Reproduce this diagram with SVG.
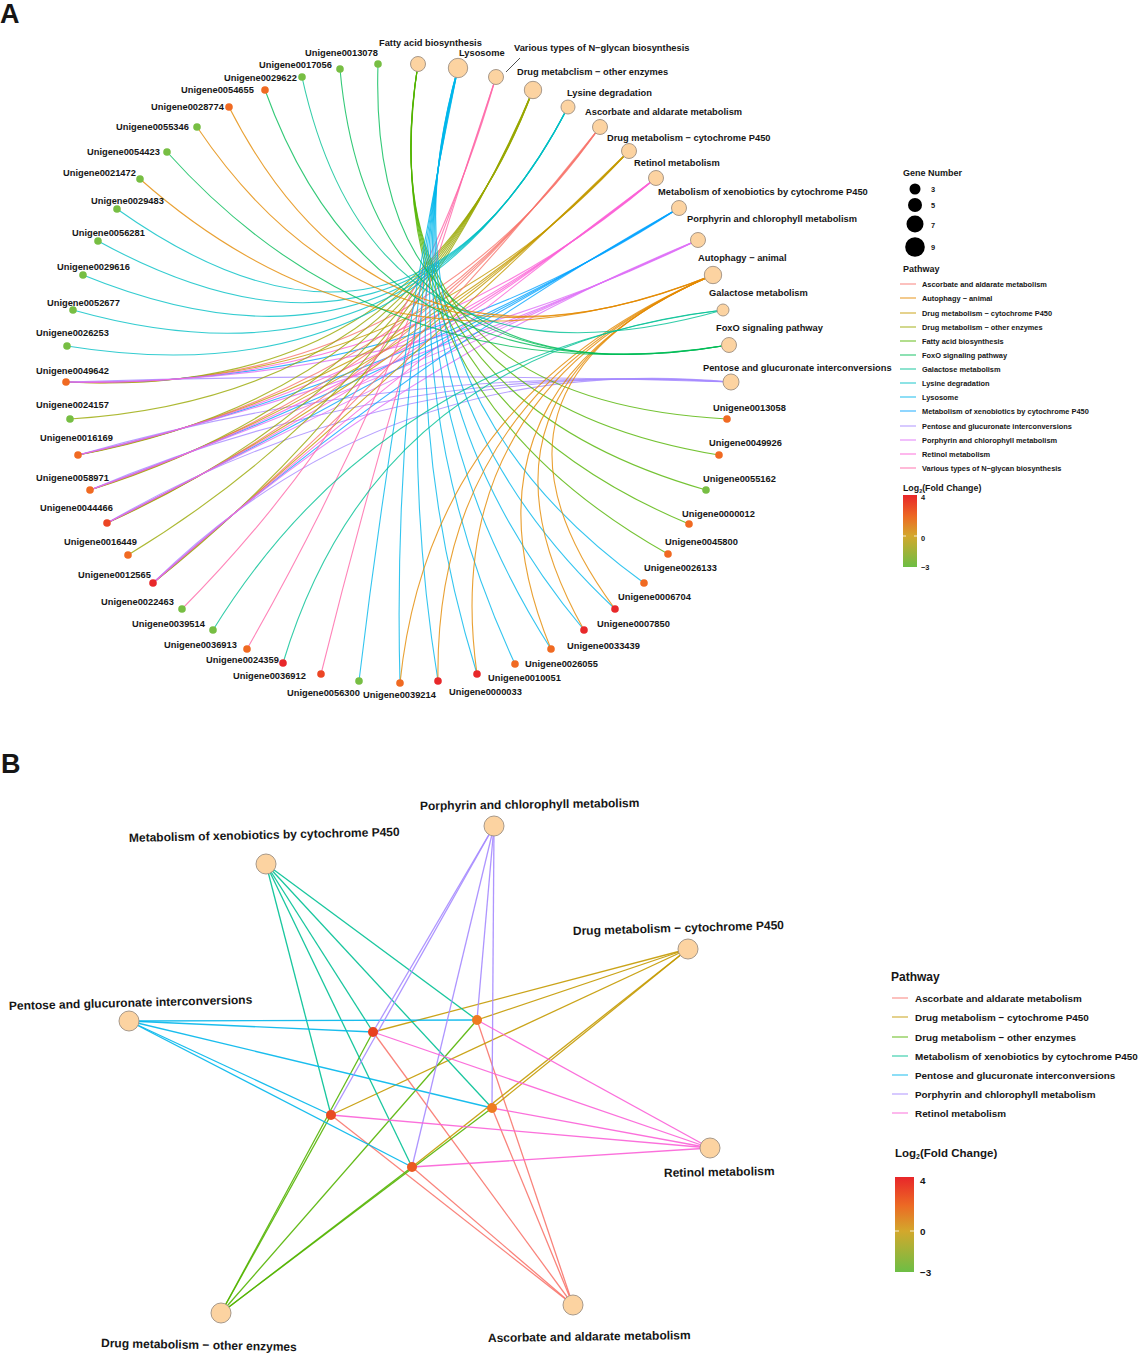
<svg xmlns="http://www.w3.org/2000/svg" width="1138" height="1355" viewBox="0 0 1138 1355">
<style>
text{font-family:"Liberation Sans",Arial,sans-serif;font-weight:bold;fill:#161616}
.e{fill:none;stroke-width:1.1;stroke-opacity:.8}
.eb{fill:none;stroke-width:1.3;stroke-opacity:.9}
.lg{fill:none;stroke-width:1.2;stroke-opacity:.75}
.as{stroke:#F8766D}.au{stroke:#E38900}.dp{stroke:#C49A00}.do{stroke:#99A800}.fa{stroke:#53B400}
.fo{stroke:#00BC56}.ga{stroke:#00C094}.ld{stroke:#00BFC4}.ly{stroke:#00B6EB}.xe{stroke:#06A4FF}
.pe{stroke:#A58AFF}.po{stroke:#DF70F8}.re{stroke:#FB61D7}.ng{stroke:#FF66A8}
.bdo{stroke:#53B400}.bxe{stroke:#00C094}.bpe{stroke:#00B6EB}.bpo{stroke:#A58AFF}
.pn{fill:#FCD3A1;stroke:#A8998A;stroke-width:1}
.gn{stroke:none}
.gr{fill:#77BE43}.or{fill:#F06A22}.rd{fill:#E8282A}.ro{fill:#EC4524}
.gl{font-size:9.3px}
.lt{font-size:7.4px}
.bt{font-size:12px}
.bl{font-size:9.9px}
</style>
<defs>
<linearGradient id="fc" x1="0" y1="0" x2="0" y2="1">
<stop offset="0" stop-color="#E8262A"/>
<stop offset="0.3" stop-color="#EC6A24"/>
<stop offset="0.57" stop-color="#D3A82C"/>
<stop offset="1" stop-color="#6DBE45"/>
</linearGradient>
</defs>
<rect width="1138" height="1355" fill="#fff"/>
<text x="0" y="23" font-size="27">A</text>
<text x="1" y="773" font-size="27">B</text>

<g id="edges-a">
<path class="e as" d="M66,382 Q411,396.7 600,127"/>
<path class="e dp" d="M66,382 Q408.1,394.3 629,151"/>
<path class="e do" d="M66,382 Q417.7,400.4 533,90"/>
<path class="e xe" d="M66,382 Q403.1,388.6 679,208"/>
<path class="e pe" d="M66,382 Q397.9,371.2 731,382"/>
<path class="e po" d="M66,382 Q401.2,385.4 698,240"/>
<path class="e re" d="M66,382 Q405.4,391.6 656,178"/>
<path class="e as" d="M78,455 Q409.8,389.4 600,127"/>
<path class="e dp" d="M78,455 Q406.9,387 629,151"/>
<path class="e do" d="M78,455 Q416.5,393.1 533,90"/>
<path class="e xe" d="M78,455 Q401.9,381.3 679,208"/>
<path class="e pe" d="M78,455 Q396.7,363.9 731,382"/>
<path class="e po" d="M78,455 Q400,378.1 698,240"/>
<path class="e re" d="M78,455 Q404.2,384.3 656,178"/>
<path class="e as" d="M90,490 Q408.6,385.9 600,127"/>
<path class="e dp" d="M90,490 Q405.7,383.5 629,151"/>
<path class="e do" d="M90,490 Q415.3,389.6 533,90"/>
<path class="e xe" d="M90,490 Q400.7,377.8 679,208"/>
<path class="e pe" d="M90,490 Q395.5,360.4 731,382"/>
<path class="e po" d="M90,490 Q398.8,374.6 698,240"/>
<path class="e re" d="M90,490 Q403,380.8 656,178"/>
<path class="e as" d="M107,523 Q406.9,382.6 600,127"/>
<path class="e dp" d="M107,523 Q404,380.2 629,151"/>
<path class="e do" d="M107,523 Q413.6,386.3 533,90"/>
<path class="e xe" d="M107,523 Q399,374.5 679,208"/>
<path class="e pe" d="M107,523 Q393.8,357.1 731,382"/>
<path class="e po" d="M107,523 Q397.1,371.3 698,240"/>
<path class="e re" d="M107,523 Q401.3,377.5 656,178"/>
<path class="e as" d="M153,583 Q402.3,376.6 600,127"/>
<path class="e dp" d="M153,583 Q399.4,374.2 629,151"/>
<path class="e do" d="M153,583 Q409,380.3 533,90"/>
<path class="e xe" d="M153,583 Q394.4,368.5 679,208"/>
<path class="e pe" d="M153,583 Q389.2,351.1 731,382"/>
<path class="e po" d="M153,583 Q392.5,365.3 698,240"/>
<path class="e re" d="M153,583 Q396.7,371.5 656,178"/>
<path class="e do" d="M70,419 Q417.3,396.7 533,90"/>
<path class="e do" d="M128,555 Q411.5,383.1 533,90"/>
<path class="e ng" d="M182,609 Q409.8,379 496,77"/>
<path class="e ng" d="M247,649 Q403.3,375 496,77"/>
<path class="e ng" d="M321,674 Q395.9,372.5 496,77"/>
<path class="e fa" d="M727,419 Q363.1,399.3 418,64"/>
<path class="e fa" d="M719,455 Q363.9,395.7 418,64"/>
<path class="e fa" d="M706,490 Q365.2,392.2 418,64"/>
<path class="e fa" d="M689,524 Q366.9,388.8 418,64"/>
<path class="e fa" d="M668,554 Q369,385.8 418,64"/>
<path class="e ld" d="M117,209 Q409.1,416 568,107"/>
<path class="e ld" d="M98,241 Q411,412.8 568,107"/>
<path class="e ld" d="M83,275 Q412.5,409.4 568,107"/>
<path class="e ld" d="M73,310 Q413.5,405.9 568,107"/>
<path class="e ld" d="M67,346 Q414.1,402.3 568,107"/>
<path class="e ly" d="M359,681 Q395.9,372.7 458,68"/>
<path class="e ly" d="M400,683 Q391.8,372.5 458,68"/>
<path class="e ly" d="M438,681 Q388,372.7 458,68"/>
<path class="e ly" d="M477,674 Q384.1,373.4 458,68"/>
<path class="e ly" d="M515,664 Q380.3,374.4 458,68"/>
<path class="e ly" d="M551,649 Q376.7,375.9 458,68"/>
<path class="e ly" d="M584,630 Q373.4,377.8 458,68"/>
<path class="e ly" d="M615,609 Q370.3,379.9 458,68"/>
<path class="e ly" d="M644,583 Q367.4,382.5 458,68"/>
<path class="e au" d="M229,107 Q383.4,409.4 713,275"/>
<path class="e au" d="M197,127 Q386.6,407.4 713,275"/>
<path class="e au" d="M140,179 Q392.3,402.2 713,275"/>
<path class="e au" d="M400,683 Q429.7,394.2 713,275"/>
<path class="e au" d="M438,681 Q433.5,394 713,275"/>
<path class="e au" d="M477,674 Q437.4,393.3 713,275"/>
<path class="e au" d="M551,649 Q444.8,390.8 713,275"/>
<path class="e au" d="M584,630 Q448.1,388.9 713,275"/>
<path class="e au" d="M615,609 Q451.2,386.8 713,275"/>
<path class="e fo" d="M378,64 Q366.9,406.7 729,345"/>
<path class="e fo" d="M340,69 Q370.7,406.2 729,345"/>
<path class="e fo" d="M265,90 Q378.2,404.1 729,345"/>
<path class="e fo" d="M167,152 Q388,397.9 729,345"/>
<path class="e ga" d="M302,77 Q375.1,408.9 723,310"/>
<path class="e ga" d="M213,630 Q384,353.6 723,310"/>
<path class="e ga" d="M283,663 Q377,350.3 723,310"/>
<line x1="506" y1="72" x2="520" y2="58" stroke="#222" stroke-width="0.8"/>
</g>

<g id="pathways-a">
<g id="a-fatty-acid"><circle class="pn" cx="418" cy="64" r="7.5"/><text class="gl" x="379" y="46">Fatty acid biosynthesis</text></g>
<g id="a-lysosome"><circle class="pn" cx="458" cy="68" r="9.7"/><text class="gl" x="459" y="56">Lysosome</text></g>
<g id="a-nglycan"><circle class="pn" cx="496" cy="77" r="7.5"/><text class="gl" x="514" y="51">Various types of N&#8722;glycan biosynthesis</text></g>
<g id="a-drug-other"><circle class="pn" cx="533" cy="90" r="8.7"/><text class="gl" x="517" y="75">Drug metabclism &#8722; other enzymes</text></g>
<g id="a-lysine"><circle class="pn" cx="568" cy="107" r="7"/><text class="gl" x="567" y="96">Lysine degradation</text></g>
<g id="a-ascorbate"><circle class="pn" cx="600" cy="127" r="7.5"/><text class="gl" x="585" y="115">Ascorbate and aldarate metabolism</text></g>
<g id="a-drug-p450"><circle class="pn" cx="629" cy="151" r="7.5"/><text class="gl" x="607" y="141">Drug metabolism &#8722; cytochrome P450</text></g>
<g id="a-retinol"><circle class="pn" cx="656" cy="178" r="7.5"/><text class="gl" x="634" y="166">Retinol metabolism</text></g>
<g id="a-xenobiotics"><circle class="pn" cx="679" cy="208" r="7.5"/><text class="gl" x="658" y="195">Metabolism of xenobiotics by cytochrome P450</text></g>
<g id="a-porphyrin"><circle class="pn" cx="698" cy="240" r="7.5"/><text class="gl" x="687" y="222">Porphyrin and chlorophyll metabolism</text></g>
<g id="a-autophagy"><circle class="pn" cx="713" cy="275" r="8.7"/><text class="gl" x="698" y="261">Autophagy &#8722; animal</text></g>
<g id="a-galactose"><circle class="pn" cx="723" cy="310" r="6"/><text class="gl" x="709" y="296">Galactose metabolism</text></g>
<g id="a-foxo"><circle class="pn" cx="729" cy="345" r="7.5"/><text class="gl" x="716" y="331" font-size="8.8">FoxO signaling pathway</text></g>
<g id="a-pentose"><circle class="pn" cx="731" cy="382" r="8"/><text class="gl" x="703" y="371">Pentose and glucuronate interconversions</text></g>
</g>

<g id="genes-a">
<g id="u0013078"><circle class="gn gr" cx="378" cy="64" r="3.8"/><text class="gl" x="305" y="56">Unigene0013078</text></g>
<g id="u0017056"><circle class="gn gr" cx="340" cy="69" r="3.8"/><text class="gl" x="259" y="68">Unigene0017056</text></g>
<g id="u0029622"><circle class="gn gr" cx="302" cy="77" r="3.8"/><text class="gl" x="224" y="81">Unigene0029622</text></g>
<g id="u0054655"><circle class="gn or" cx="265" cy="90" r="3.8"/><text class="gl" x="181" y="93">Unigene0054655</text></g>
<g id="u0028774"><circle class="gn or" cx="229" cy="107" r="3.8"/><text class="gl" x="151" y="110">Unigene0028774</text></g>
<g id="u0055346"><circle class="gn gr" cx="197" cy="127" r="3.8"/><text class="gl" x="116" y="130">Unigene0055346</text></g>
<g id="u0054423"><circle class="gn gr" cx="167" cy="152" r="3.8"/><text class="gl" x="87" y="155">Unigene0054423</text></g>
<g id="u0021472"><circle class="gn gr" cx="140" cy="179" r="3.8"/><text class="gl" x="63" y="176">Unigene0021472</text></g>
<g id="u0029483"><circle class="gn gr" cx="117" cy="209" r="3.8"/><text class="gl" x="91" y="204">Unigene0029483</text></g>
<g id="u0056281"><circle class="gn gr" cx="98" cy="241" r="3.8"/><text class="gl" x="72" y="236">Unigene0056281</text></g>
<g id="u0029616"><circle class="gn gr" cx="83" cy="275" r="3.8"/><text class="gl" x="57" y="270">Unigene0029616</text></g>
<g id="u0052677"><circle class="gn gr" cx="73" cy="310" r="3.8"/><text class="gl" x="47" y="306">Unigene0052677</text></g>
<g id="u0026253"><circle class="gn gr" cx="67" cy="346" r="3.8"/><text class="gl" x="36" y="336">Unigene0026253</text></g>
<g id="u0049642"><circle class="gn or" cx="66" cy="382" r="3.8"/><text class="gl" x="36" y="374">Unigene0049642</text></g>
<g id="u0024157"><circle class="gn gr" cx="70" cy="419" r="3.8"/><text class="gl" x="36" y="408">Unigene0024157</text></g>
<g id="u0016169"><circle class="gn or" cx="78" cy="455" r="3.8"/><text class="gl" x="40" y="441">Unigene0016169</text></g>
<g id="u0058971"><circle class="gn or" cx="90" cy="490" r="3.8"/><text class="gl" x="36" y="481">Unigene0058971</text></g>
<g id="u0044466"><circle class="gn ro" cx="107" cy="523" r="3.8"/><text class="gl" x="40" y="511">Unigene0044466</text></g>
<g id="u0016449"><circle class="gn or" cx="128" cy="555" r="3.8"/><text class="gl" x="64" y="545">Unigene0016449</text></g>
<g id="u0012565"><circle class="gn rd" cx="153" cy="583" r="3.8"/><text class="gl" x="78" y="578">Unigene0012565</text></g>
<g id="u0022463"><circle class="gn gr" cx="182" cy="609" r="3.8"/><text class="gl" x="101" y="605">Unigene0022463</text></g>
<g id="u0039514"><circle class="gn gr" cx="213" cy="630" r="3.8"/><text class="gl" x="132" y="627">Unigene0039514</text></g>
<g id="u0036913"><circle class="gn or" cx="247" cy="649" r="3.8"/><text class="gl" x="164" y="648">Unigene0036913</text></g>
<g id="u0024359"><circle class="gn rd" cx="283" cy="663" r="3.8"/><text class="gl" x="206" y="663">Unigene0024359</text></g>
<g id="u0036912"><circle class="gn ro" cx="321" cy="674" r="3.8"/><text class="gl" x="233" y="679">Unigene0036912</text></g>
<g id="u0056300"><circle class="gn gr" cx="359" cy="681" r="3.8"/><text class="gl" x="287" y="696">Unigene0056300</text></g>
<g id="u0039214"><circle class="gn or" cx="400" cy="683" r="3.8"/><text class="gl" x="363" y="698">Unigene0039214</text></g>
<g id="u0000033"><circle class="gn rd" cx="438" cy="681" r="3.8"/><text class="gl" x="449" y="695">Unigene0000033</text></g>
<g id="u0010051"><circle class="gn rd" cx="477" cy="674" r="3.8"/><text class="gl" x="488" y="681">Unigene0010051</text></g>
<g id="u0026055"><circle class="gn or" cx="515" cy="664" r="3.8"/><text class="gl" x="525" y="667">Unigene0026055</text></g>
<g id="u0033439"><circle class="gn or" cx="551" cy="649" r="3.8"/><text class="gl" x="567" y="649">Unigene0033439</text></g>
<g id="u0007850"><circle class="gn rd" cx="584" cy="630" r="3.8"/><text class="gl" x="597" y="627">Unigene0007850</text></g>
<g id="u0006704"><circle class="gn rd" cx="615" cy="609" r="3.8"/><text class="gl" x="618" y="600">Unigene0006704</text></g>
<g id="u0026133"><circle class="gn or" cx="644" cy="583" r="3.8"/><text class="gl" x="644" y="571">Unigene0026133</text></g>
<g id="u0045800"><circle class="gn or" cx="668" cy="554" r="3.8"/><text class="gl" x="665" y="545">Unigene0045800</text></g>
<g id="u0000012"><circle class="gn or" cx="689" cy="524" r="3.8"/><text class="gl" x="682" y="517">Unigene0000012</text></g>
<g id="u0055162"><circle class="gn gr" cx="706" cy="490" r="3.8"/><text class="gl" x="703" y="482">Unigene0055162</text></g>
<g id="u0049926"><circle class="gn or" cx="719" cy="455" r="3.8"/><text class="gl" x="709" y="446">Unigene0049926</text></g>
<g id="u0013058"><circle class="gn or" cx="727" cy="419" r="3.8"/><text class="gl" x="713" y="411">Unigene0013058</text></g>
</g>

<g id="legend-a">
<text x="903" y="176" font-size="9">Gene Number</text>
<circle cx="915" cy="189" r="5.5" fill="#000"/><text class="lt" x="931" y="192">3</text>
<circle cx="915" cy="205" r="7" fill="#000"/><text class="lt" x="931" y="208">5</text>
<circle cx="915" cy="224" r="8.5" fill="#000"/><text class="lt" x="931" y="228">7</text>
<circle cx="915" cy="247" r="9.8" fill="#000"/><text class="lt" x="931" y="250">9</text>
<text x="903" y="272" font-size="9">Pathway</text>
<line class="lg as" x1="900" y1="284" x2="916" y2="284"/><text class="lt" x="922" y="287">Ascorbate and aldarate metabolism</text>
<line class="lg au" x1="900" y1="298" x2="916" y2="298"/><text class="lt" x="922" y="301">Autophagy &#8722; animal</text>
<line class="lg dp" x1="900" y1="313" x2="916" y2="313"/><text class="lt" x="922" y="316">Drug metabolism &#8722; cytochrome P450</text>
<line class="lg do" x1="900" y1="327" x2="916" y2="327"/><text class="lt" x="922" y="330">Drug metabolism &#8722; other enzymes</text>
<line class="lg fa" x1="900" y1="341" x2="916" y2="341"/><text class="lt" x="922" y="344">Fatty acid biosynthesis</text>
<line class="lg fo" x1="900" y1="355" x2="916" y2="355"/><text class="lt" x="922" y="358">FoxO signaling pathway</text>
<line class="lg ga" x1="900" y1="369" x2="916" y2="369"/><text class="lt" x="922" y="372">Galactose metabolism</text>
<line class="lg ld" x1="900" y1="383" x2="916" y2="383"/><text class="lt" x="922" y="386">Lysine degradation</text>
<line class="lg ly" x1="900" y1="397" x2="916" y2="397"/><text class="lt" x="922" y="400">Lysosome</text>
<line class="lg xe" x1="900" y1="411" x2="916" y2="411"/><text class="lt" x="922" y="414">Metabolism of xenobiotics by cytochrome P450</text>
<line class="lg pe" x1="900" y1="426" x2="916" y2="426"/><text class="lt" x="922" y="429">Pentose and glucuronate interconversions</text>
<line class="lg po" x1="900" y1="440" x2="916" y2="440"/><text class="lt" x="922" y="443">Porphyrin and chlorophyll metabolism</text>
<line class="lg re" x1="900" y1="454" x2="916" y2="454"/><text class="lt" x="922" y="457">Retinol metabolism</text>
<line class="lg ng" x1="900" y1="468" x2="916" y2="468"/><text class="lt" x="922" y="471">Various types of N&#8722;glycan biosynthesis</text>
<text x="903" y="491" font-size="8.8">Log<tspan font-size="5.5" dy="1.5">2</tspan><tspan dy="-1.5">(Fold Change)</tspan></text>
<rect x="903" y="495" width="14" height="72" fill="url(#fc)"/>
<line x1="903" y1="536" x2="906" y2="536" stroke="#fff" stroke-width="0.8"/>
<line x1="914" y1="536" x2="917" y2="536" stroke="#fff" stroke-width="0.8"/>
<text class="lt" x="921" y="500">4</text>
<text class="lt" x="921" y="541">0</text>
<text class="lt" x="921" y="570">&#8722;3</text>
</g>

<g id="edges-b">
<line class="eb as" x1="573" y1="1305" x2="373" y2="1032"/>
<line class="eb as" x1="573" y1="1305" x2="477" y2="1020"/>
<line class="eb as" x1="573" y1="1305" x2="331" y2="1115"/>
<line class="eb as" x1="573" y1="1305" x2="492" y2="1108"/>
<line class="eb as" x1="573" y1="1305" x2="412" y2="1167"/>
<line class="eb dp" x1="688" y1="949" x2="373" y2="1032"/>
<line class="eb dp" x1="688" y1="949" x2="477" y2="1020"/>
<line class="eb dp" x1="688" y1="949" x2="331" y2="1115"/>
<line class="eb dp" x1="688" y1="949" x2="492" y2="1108"/>
<line class="eb dp" x1="688" y1="949" x2="412" y2="1167"/>
<line class="eb bdo" x1="221" y1="1313" x2="373" y2="1032"/>
<line class="eb bdo" x1="221" y1="1313" x2="477" y2="1020"/>
<line class="eb bdo" x1="221" y1="1313" x2="331" y2="1115" stroke-width="2"/>
<line class="eb bdo" x1="221" y1="1313" x2="492" y2="1108"/>
<line class="eb bdo" x1="221" y1="1313" x2="412" y2="1167" stroke-width="2"/>
<line class="eb bxe" x1="266" y1="864" x2="373" y2="1032"/>
<line class="eb bxe" x1="266" y1="864" x2="477" y2="1020"/>
<line class="eb bxe" x1="266" y1="864" x2="331" y2="1115"/>
<line class="eb bxe" x1="266" y1="864" x2="492" y2="1108"/>
<line class="eb bxe" x1="266" y1="864" x2="412" y2="1167"/>
<line class="eb bpe" x1="129" y1="1021" x2="373" y2="1032"/>
<line class="eb bpe" x1="129" y1="1021" x2="477" y2="1020"/>
<line class="eb bpe" x1="129" y1="1021" x2="331" y2="1115"/>
<line class="eb bpe" x1="129" y1="1021" x2="492" y2="1108"/>
<line class="eb bpe" x1="129" y1="1021" x2="412" y2="1167"/>
<line class="eb bpo" x1="494" y1="826" x2="373" y2="1032"/>
<line class="eb bpo" x1="494" y1="826" x2="477" y2="1020"/>
<line class="eb bpo" x1="494" y1="826" x2="331" y2="1115"/>
<line class="eb bpo" x1="494" y1="826" x2="492" y2="1108"/>
<line class="eb bpo" x1="494" y1="826" x2="412" y2="1167"/>
<line class="eb re" x1="710" y1="1148" x2="373" y2="1032"/>
<line class="eb re" x1="710" y1="1148" x2="477" y2="1020"/>
<line class="eb re" x1="710" y1="1148" x2="331" y2="1115"/>
<line class="eb re" x1="710" y1="1148" x2="492" y2="1108"/>
<line class="eb re" x1="710" y1="1148" x2="412" y2="1167"/>
</g>

<g id="pathways-b">
<g id="b-porphyrin"><circle class="pn" cx="494" cy="826" r="10"/><text class="bt" x="420" y="810" transform="rotate(-0.8 420 810)">Porphyrin and chlorophyll metabolism</text></g>
<g id="b-xenobiotics"><circle class="pn" cx="266" cy="864" r="10"/><text class="bt" x="129" y="842" transform="rotate(-1.3 129 842)">Metabolism of xenobiotics by cytochrome P450</text></g>
<g id="b-drug-p450"><circle class="pn" cx="688" cy="949" r="10"/><text class="bt" x="573" y="935" transform="rotate(-1.6 573 935)">Drug metabolism &#8722; cytochrome P450</text></g>
<g id="b-pentose"><circle class="pn" cx="129" cy="1021" r="10"/><text class="bt" x="9" y="1010" transform="rotate(-1.5 9 1010)">Pentose and glucuronate interconversions</text></g>
<g id="b-retinol"><circle class="pn" cx="710" cy="1148" r="10"/><text class="bt" x="664" y="1177" transform="rotate(-1 664 1177)">Retinol metabolism</text></g>
<g id="b-drug-other"><circle class="pn" cx="221" cy="1313" r="10"/><text class="bt" x="101" y="1347" transform="rotate(1.2 101 1347)">Drug metabolism &#8722; other enzymes</text></g>
<g id="b-ascorbate"><circle class="pn" cx="573" cy="1305" r="10"/><text class="bt" x="488" y="1342" transform="rotate(-0.8 488 1342)">Ascorbate and aldarate metabolism</text></g>
</g>

<g id="genes-b">
<g id="b-gene1"><circle cx="373" cy="1032" r="5" fill="#E8401F"/></g>
<g id="b-gene2"><circle cx="477" cy="1020" r="5" fill="#EE7B22"/></g>
<g id="b-gene3"><circle cx="331" cy="1115" r="5" fill="#E84A22"/></g>
<g id="b-gene4"><circle cx="492" cy="1108" r="5" fill="#EE7B22"/></g>
<g id="b-gene5"><circle cx="412" cy="1167" r="5" fill="#EB5A22"/></g>
</g>

<g id="legend-b">
<text x="891" y="981" font-size="12">Pathway</text>
<line class="lg as" x1="892" y1="998" x2="908" y2="998"/><text class="bl" x="915" y="1001.5">Ascorbate and aldarate metabolism</text>
<line class="lg dp" x1="892" y1="1017" x2="908" y2="1017"/><text class="bl" x="915" y="1020.5">Drug metabolism &#8722; cytochrome P450</text>
<line class="lg bdo" x1="892" y1="1037" x2="908" y2="1037"/><text class="bl" x="915" y="1040.5">Drug metabolism &#8722; other enzymes</text>
<line class="lg bxe" x1="892" y1="1056" x2="908" y2="1056"/><text class="bl" x="915" y="1059.5">Metabolism of xenobiotics by cytochrome P450</text>
<line class="lg bpe" x1="892" y1="1075" x2="908" y2="1075"/><text class="bl" x="915" y="1078.5">Pentose and glucuronate interconversions</text>
<line class="lg bpo" x1="892" y1="1094" x2="908" y2="1094"/><text class="bl" x="915" y="1097.5">Porphyrin and chlorophyll metabolism</text>
<line class="lg re" x1="892" y1="1113" x2="908" y2="1113"/><text class="bl" x="915" y="1116.5">Retinol metabolism</text>
<text x="895" y="1157" font-size="11.5">Log<tspan font-size="7" dy="2">2</tspan><tspan dy="-2">(Fold Change)</tspan></text>
<rect x="895" y="1177" width="19" height="95" fill="url(#fc)"/>
<line x1="895" y1="1231" x2="899" y2="1231" stroke="#fff" stroke-width="0.8"/>
<line x1="910" y1="1231" x2="914" y2="1231" stroke="#fff" stroke-width="0.8"/>
<text class="bl" x="920" y="1184">4</text>
<text class="bl" x="920" y="1235">0</text>
<text class="bl" x="920" y="1276">&#8722;3</text>
</g>
</svg>
